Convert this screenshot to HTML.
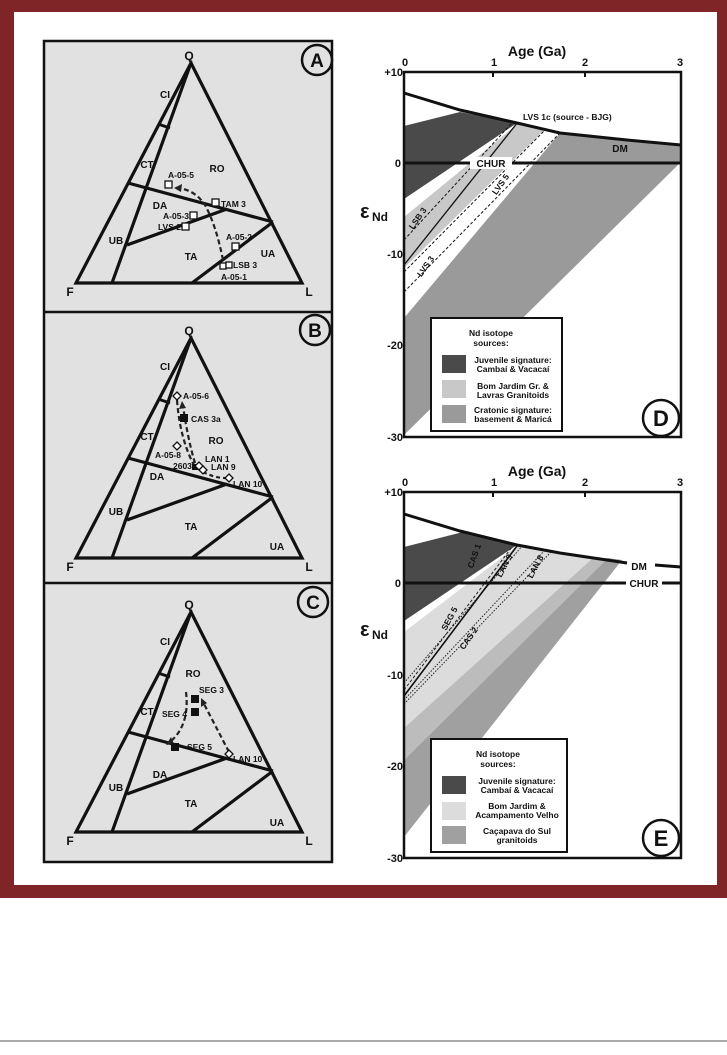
<!DOCTYPE html>
<html><head><meta charset="utf-8"><style>
html,body{margin:0;padding:0;background:#fff;}
svg{display:block;}
text{font-family:"Liberation Sans",Arial,sans-serif;font-weight:bold;fill:#111;}
</style></head><body>
<svg width="727" height="1055" viewBox="0 0 727 1055" xmlns="http://www.w3.org/2000/svg">
<defs>
<g id="tri">
  <polygon points="191,63 76,283 302,283" fill="none" stroke="#111" stroke-width="3.2" stroke-linejoin="miter"/>
  <line x1="191" y1="63" x2="112" y2="283" stroke="#111" stroke-width="3.2"/>
  <line x1="158" y1="124" x2="170" y2="128" stroke="#111" stroke-width="3"/>
  <line x1="128" y1="183" x2="273" y2="222" stroke="#111" stroke-width="3.2"/>
  <line x1="127" y1="245" x2="227" y2="209" stroke="#111" stroke-width="3.2"/>
  <line x1="192" y1="283" x2="273" y2="222" stroke="#111" stroke-width="3.2"/>
  <text x="189" y="60" font-size="12" text-anchor="middle">Q</text>
  <text x="70" y="296" font-size="12" text-anchor="middle">F</text>
  <text x="309" y="296" font-size="12" text-anchor="middle">L</text>
</g>
</defs>
<!-- frame -->
<rect x="0" y="0" width="727" height="898" fill="#7f2427"/>
<rect x="14" y="12" width="703" height="873" fill="#fff"/>
<line x1="0" y1="1041" x2="727" y2="1041" stroke="#555" stroke-width="1"/>

<!-- left panels -->
<rect x="44" y="41" width="288" height="821" fill="#e1e1e1" stroke="#111" stroke-width="2.5"/>
<line x1="44" y1="312" x2="332" y2="312" stroke="#111" stroke-width="2.5"/>
<line x1="44" y1="583" x2="332" y2="583" stroke="#111" stroke-width="2.5"/>

<!-- Panel A -->
<use href="#tri"/>
<circle cx="317" cy="60" r="15" fill="#e1e1e1" stroke="#111" stroke-width="2.5"/>
<text x="317" y="67" font-size="19" text-anchor="middle" font-weight="normal">A</text>
<g font-size="10">
<text x="165" y="98" text-anchor="middle">CI</text>
<text x="147" y="168" text-anchor="middle">CT</text>
<text x="217" y="172" text-anchor="middle">RO</text>
<text x="160" y="209" text-anchor="middle">DA</text>
<text x="116" y="244" text-anchor="middle">UB</text>
<text x="191" y="260" text-anchor="middle">TA</text>
<text x="268" y="257" text-anchor="middle">UA</text>
</g>
<path d="M223,260 Q216,225 205,205 Q195,190 178,188" fill="none" stroke="#222" stroke-width="2.2" stroke-dasharray="5,3"/>
<polygon points="174,188 182,184 181,192" fill="#222"/>
<g fill="#fff" stroke="#111" stroke-width="1.3">
<rect x="165" y="181" width="7" height="7"/>
<rect x="212" y="199" width="7" height="7"/>
<rect x="190" y="212" width="7" height="7"/>
<rect x="182" y="223" width="7" height="7"/>
<rect x="232" y="243" width="7" height="7"/>
<rect x="220" y="263" width="6" height="6"/>
<rect x="226" y="262" width="6" height="6"/>
</g>
<g font-size="8.5">
<text x="168" y="178">A-05-5</text>
<text x="221" y="207">TAM 3</text>
<text x="189" y="219" text-anchor="end">A-05-3</text>
<text x="181" y="230" text-anchor="end">LVS 2</text>
<text x="226" y="240">A-05-2</text>
<text x="233" y="268">LSB 3</text>
<text x="221" y="280">A-05-1</text>
</g>

<!-- Panel B -->
<use href="#tri" transform="translate(0,275)"/>
<circle cx="315" cy="330" r="15" fill="#e1e1e1" stroke="#111" stroke-width="2.5"/>
<text x="315" y="337" font-size="19" text-anchor="middle" font-weight="normal">B</text>
<g font-size="10">
<text x="165" y="370" text-anchor="middle">CI</text>
<text x="147" y="440" text-anchor="middle">CT</text>
<text x="216" y="444" text-anchor="middle">RO</text>
<text x="157" y="480" text-anchor="middle">DA</text>
<text x="116" y="515" text-anchor="middle">UB</text>
<text x="191" y="530" text-anchor="middle">TA</text>
<text x="277" y="550" text-anchor="middle">UA</text>
</g>
<path d="M177,400 Q180,440 195,467" fill="none" stroke="#222" stroke-width="2.2" stroke-dasharray="5,3"/>
<path d="M195,463 Q188,440 183,406" fill="none" stroke="#222" stroke-width="2.2" stroke-dasharray="5,3"/>
<polygon points="182,401 179,409 186,408" fill="#222"/>
<path d="M203,472 Q215,478 225,478" fill="none" stroke="#222" stroke-width="2.2" stroke-dasharray="4,3"/>
<rect x="180" y="414" width="8" height="8" fill="#111"/>
<rect x="192" y="464" width="6" height="6" fill="#111"/>
<g fill="#fff" stroke="#111" stroke-width="1.3">
<polygon points="177,392 181,396 177,400 173,396"/>
<polygon points="177,442 181,446 177,450 173,446"/>
<polygon points="199,462 203,466 199,470 195,466"/>
<polygon points="203,466 207,470 203,474 199,470"/>
<polygon points="229,474 233,478 229,482 225,478"/>
</g>
<g font-size="8.5">
<text x="183" y="399">A-05-6</text>
<text x="191" y="422">CAS 3a</text>
<text x="155" y="458">A-05-8</text>
<text x="173" y="469">2603</text>
<text x="205" y="462">LAN 1</text>
<text x="211" y="470">LAN 9</text>
<text x="233" y="487">LAN 10</text>
</g>

<!-- Panel C -->
<use href="#tri" transform="translate(0,549)"/>
<circle cx="313" cy="602" r="15" fill="#e1e1e1" stroke="#111" stroke-width="2.5"/>
<text x="313" y="609" font-size="19" text-anchor="middle" font-weight="normal">C</text>
<g font-size="10">
<text x="165" y="645" text-anchor="middle">CI</text>
<text x="147" y="715" text-anchor="middle">CT</text>
<text x="193" y="677" text-anchor="middle">RO</text>
<text x="160" y="778" text-anchor="middle">DA</text>
<text x="116" y="791" text-anchor="middle">UB</text>
<text x="191" y="807" text-anchor="middle">TA</text>
<text x="277" y="826" text-anchor="middle">UA</text>
</g>
<path d="M186,692 Q190,725 170,742" fill="none" stroke="#222" stroke-width="2.2" stroke-dasharray="5,3"/>
<polygon points="166,745 171,737 174,744" fill="#222"/>
<path d="M229,752 Q215,725 203,702" fill="none" stroke="#222" stroke-width="2.2" stroke-dasharray="5,3"/>
<polygon points="201,698 201,707 207,703" fill="#222"/>
<rect x="191" y="695" width="8" height="8" fill="#111"/>
<rect x="191" y="708" width="8" height="8" fill="#111"/>
<rect x="171" y="743" width="8" height="8" fill="#111"/>
<polygon points="229,750 233,754 229,758 225,754" fill="#fff" stroke="#111" stroke-width="1.3"/>
<g font-size="8.5">
<text x="199" y="693">SEG 3</text>
<text x="187" y="717" text-anchor="end">SEG 4</text>
<text x="187" y="750">SEG 5</text>
<text x="233" y="762">LAN 10</text>
</g>

<!-- Panel D -->
<g>
<clipPath id="cd"><rect x="404" y="72" width="277" height="365"/></clipPath>
<g clip-path="url(#cd)">
<polygon points="404,126 460,112 517,123 404,199" fill="#4a4a4a"/>
<polygon points="404,217 520,122 545,129 404,268" fill="#c8c8c8"/>
<polygon points="404,318 560,133 627,140 681,145 681,162 404,435" fill="#9a9a9a"/>
<line x1="404" y1="240" x2="512" y2="123" stroke="#111" stroke-width="1" stroke-dasharray="3,2"/>
<line x1="404" y1="265" x2="518" y2="122" stroke="#111" stroke-width="1.3"/>
<line x1="404" y1="272" x2="545" y2="130" stroke="#111" stroke-width="1" stroke-dasharray="3,2"/>
<line x1="404" y1="292" x2="560" y2="133" stroke="#111" stroke-width="1" stroke-dasharray="3,2"/>
</g>
<polyline points="404,93 460,110 517,123 560,133 627,140 681,145" fill="none" stroke="#111" stroke-width="3"/>
<line x1="404" y1="163" x2="681" y2="163" stroke="#111" stroke-width="3"/>
<rect x="470" y="157" width="42" height="12" fill="#fff"/>
<text x="491" y="167" font-size="10" text-anchor="middle">CHUR</text>
<text x="620" y="152" font-size="10" text-anchor="middle">DM</text>
<text x="523" y="120" font-size="8.5">LVS 1c (source - BJG)</text>
<text transform="translate(420,220) rotate(-55)" font-size="8.5" text-anchor="middle">LSB 3</text>
<text transform="translate(503,186) rotate(-55)" font-size="8.5" text-anchor="middle">LVS 5</text>
<text transform="translate(428,268) rotate(-55)" font-size="8.5" text-anchor="middle">LVS 3</text>
<rect x="404" y="72" width="277" height="365" fill="none" stroke="#111" stroke-width="2.5"/>
<g stroke="#111" stroke-width="2"><line x1="493" y1="72" x2="493" y2="77"/><line x1="585" y1="72" x2="585" y2="77"/></g>
<text x="537" y="56" font-size="14" text-anchor="middle">Age (Ga)</text>
<g font-size="11" text-anchor="middle">
<text x="405" y="66">0</text><text x="494" y="66">1</text><text x="585" y="66">2</text><text x="680" y="66">3</text>
</g>
<g font-size="11" text-anchor="end">
<text x="403" y="76">+10</text><text x="401" y="167">0</text><text x="403" y="258">-10</text><text x="403" y="349">-20</text><text x="403" y="441">-30</text>
</g>
<text x="360" y="218" font-size="20" font-weight="normal">ε</text>
<text x="372" y="221" font-size="12">Nd</text>
<rect x="431" y="318" width="131" height="113" fill="#fff" stroke="#111" stroke-width="2"/>
<g font-size="8.5" text-anchor="middle">
<text x="491" y="336">Nd isotope</text><text x="491" y="346">sources:</text>
<text x="513" y="363">Juvenile signature:</text><text x="513" y="372">Cambaí &amp; Vacacaí</text>
<text x="513" y="389">Bom Jardim Gr. &amp;</text><text x="513" y="398">Lavras Granitoids</text>
<text x="513" y="413">Cratonic signature:</text><text x="513" y="422">basement &amp; Maricá</text>
</g>
<rect x="442" y="355" width="24" height="18" fill="#4a4a4a"/>
<rect x="442" y="380" width="24" height="18" fill="#c8c8c8"/>
<rect x="442" y="405" width="24" height="18" fill="#9a9a9a"/>
<circle cx="661" cy="418" r="18" fill="#fff" stroke="#111" stroke-width="2.5"/>
<text x="661" y="426" font-size="22" text-anchor="middle" font-weight="normal">D</text>
</g>

<!-- Panel E -->
<g>
<clipPath id="ce"><rect x="404" y="492" width="277" height="366"/></clipPath>
<g clip-path="url(#ce)">
<polygon points="404,547 463,532 517,545 404,621" fill="#4a4a4a"/>
<polygon points="404,632 517,546 560,553 593,558 404,728" fill="#dcdcdc"/>
<polygon points="404,728 593,558 608,558 404,760" fill="#bcbcbc"/>
<polygon points="404,760 608,558 622,560 404,837" fill="#a0a0a0"/>
<line x1="404" y1="683" x2="523" y2="545" stroke="#222" stroke-width="1" stroke-dasharray="1.5,1.5"/>
<line x1="404" y1="696" x2="517" y2="546" stroke="#111" stroke-width="1.6"/>
<line x1="404" y1="690" x2="512" y2="547" stroke="#222" stroke-width="1" stroke-dasharray="3,2"/>
<line x1="404" y1="700" x2="545" y2="550" stroke="#222" stroke-width="1" stroke-dasharray="1.5,1.5"/>
<line x1="404" y1="704" x2="552" y2="551" stroke="#222" stroke-width="1" stroke-dasharray="1.5,1.5"/>
</g>
<polyline points="404,514 460,531 517,545 560,553 627,563" fill="none" stroke="#111" stroke-width="3"/>
<line x1="655" y1="565" x2="681" y2="567" stroke="#111" stroke-width="3"/>
<text x="639" y="570" font-size="10" text-anchor="middle">DM</text>
<line x1="404" y1="583" x2="626" y2="583" stroke="#111" stroke-width="3"/>
<line x1="662" y1="583" x2="681" y2="583" stroke="#111" stroke-width="3"/>
<text x="644" y="587" font-size="10" text-anchor="middle">CHUR</text>
<g font-size="8.5" text-anchor="middle">
<text transform="translate(477,557) rotate(-70)" fill="#fff">CAS 1</text>
<text transform="translate(507,567) rotate(-62)">LAN 9</text>
<text transform="translate(538,568) rotate(-62)">LAN 8</text>
<text transform="translate(452,620) rotate(-62)">SEG 5</text>
<text transform="translate(471,640) rotate(-55)">CAS 2</text>
</g>
<rect x="404" y="492" width="277" height="366" fill="none" stroke="#111" stroke-width="2.5"/>
<g stroke="#111" stroke-width="2"><line x1="493" y1="492" x2="493" y2="497"/><line x1="585" y1="492" x2="585" y2="497"/></g>
<text x="537" y="476" font-size="14" text-anchor="middle">Age (Ga)</text>
<g font-size="11" text-anchor="middle">
<text x="405" y="486">0</text><text x="494" y="486">1</text><text x="585" y="486">2</text><text x="680" y="486">3</text>
</g>
<g font-size="11" text-anchor="end">
<text x="403" y="496">+10</text><text x="401" y="587">0</text><text x="403" y="679">-10</text><text x="403" y="770">-20</text><text x="403" y="862">-30</text>
</g>
<text x="360" y="636" font-size="20" font-weight="normal">ε</text>
<text x="372" y="639" font-size="12">Nd</text>
<rect x="431" y="739" width="136" height="113" fill="#fff" stroke="#111" stroke-width="2"/>
<g font-size="8.5" text-anchor="middle">
<text x="498" y="757">Nd isotope</text><text x="498" y="767">sources:</text>
<text x="517" y="784">Juvenile signature:</text><text x="517" y="793">Cambaí &amp; Vacacaí</text>
<text x="517" y="809">Bom Jardim &amp;</text><text x="517" y="818">Acampamento Velho</text>
<text x="517" y="834">Caçapava do Sul</text><text x="517" y="843">granitoids</text>
</g>
<rect x="442" y="776" width="24" height="18" fill="#4a4a4a"/>
<rect x="442" y="802" width="24" height="18" fill="#dcdcdc"/>
<rect x="442" y="826" width="24" height="18" fill="#a0a0a0"/>
<circle cx="661" cy="838" r="18" fill="#fff" stroke="#111" stroke-width="2.5"/>
<text x="661" y="846" font-size="22" text-anchor="middle" font-weight="normal">E</text>
</g>
</svg>
</body></html>
